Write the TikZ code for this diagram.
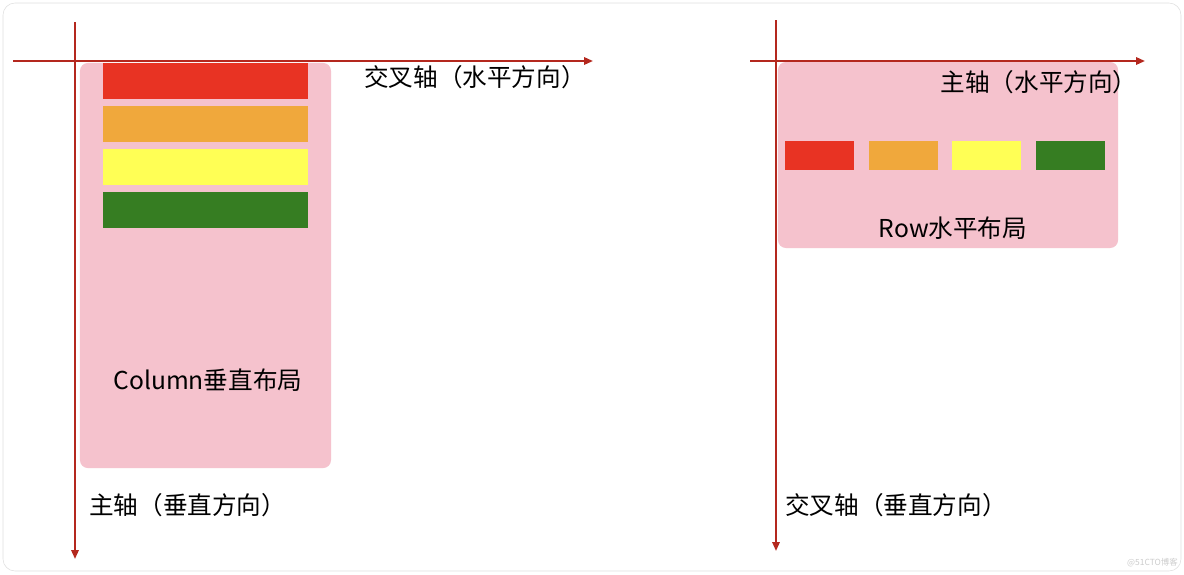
\documentclass[tikz,border=0pt]{standalone}
\usepackage{fontspec}
\usepackage{xcolor}
\usepackage{tikz}
\usetikzlibrary{arrows.meta, positioning}
\newfontfamily\cjk{Noto Sans CJK SC}
\definecolor{axisred}{RGB}{180, 40, 30}
\definecolor{panelpink}{RGB}{245, 194, 205}
\definecolor{barred}{RGB}{232, 51, 35}
\definecolor{barorange}{RGB}{240, 168, 60}
\definecolor{baryellow}{RGB}{255, 255, 85}
\definecolor{bargreen}{RGB}{54, 125, 34}

\begin{document}
\begin{tikzpicture}[
    x=0.025cm, y=-0.025cm,
    axis/.style={-{Triangle[length=0.22cm, width=0.18cm]}, line width=0.05cm, draw=axisred},
    panel/.style={rectangle, fill=panelpink, rounded corners=0.2cm, inner sep=0pt},
    colbar/.style={rectangle, inner sep=0pt, minimum width=5.125cm, minimum height=0.89cm},
    rowbar/.style={rectangle, inner sep=0pt, minimum width=1.725cm, minimum height=0.725cm},
    label/.style={font=\cjk\fontsize{17.5pt}{20pt}\selectfont, inner sep=0pt}
]
    \useasboundingbox (0,0) rectangle (1184,574);
    % frame
    \draw[gray!25, fill=white, rounded corners=0.3cm] (3,3) rectangle (1181,571);

    % Column side
    \node[panel, minimum width=6.275cm, minimum height=10.125cm] (colpanel) at (205.5,265.5) {};
    \node[colbar, fill=barred] (c1) at (205.5,80.8) {};
    \node[colbar, fill=barorange, below=0.17cm of c1] (c2) {};
    \node[colbar, fill=baryellow, below=0.17cm of c2] (c3) {};
    \node[colbar, fill=bargreen, below=0.17cm of c3] (c4) {};
    \node[label] (coltext) at (208,380) {Column垂直布局};

    \coordinate (colxs) at (13,61);
    \coordinate (colxe) at (593,61);
    \coordinate (colys) at (75,22);
    \coordinate (colye) at (75,559);
    \draw[axis] (colxs) -- (colxe);
    \draw[axis] (colys) -- (colye);
    \node[label] (colcross) at (475,77) {交叉轴（水平方向）};
    \node[label, anchor=west] (colmain) at (89,505) {主轴（垂直方向）};

    % Row side
    \node[panel, minimum width=8.5cm, minimum height=4.65cm] (rowpanel) at (948,155) {};
    \node[rowbar, fill=barred] (r1) at (819.5,155.5) {};
    \node[rowbar, fill=barorange, right=0.35cm of r1] (r2) {};
    \node[rowbar, fill=baryellow, right=0.35cm of r2] (r3) {};
    \node[rowbar, fill=bargreen, right=0.35cm of r3] (r4) {};
    \node[label] (rowtext) at (953,228) {Row水平布局};

    \coordinate (rowxs) at (750,61);
    \coordinate (rowxe) at (1145,61);
    \coordinate (rowys) at (776,20);
    \coordinate (rowye) at (776,551);
    \draw[axis] (rowxs) -- (rowxe);
    \draw[axis] (rowys) -- (rowye);
    \node[label] (rowmain) at (1039,82) {主轴（水平方向）};
    \node[label, anchor=west] (rowcross) at (785,505) {交叉轴（垂直方向）};

    \node[font=\cjk\fontsize{6pt}{7pt}\selectfont, text=gray!40, anchor=east, inner sep=0pt] (mark) at (1178,563) {@51CTO博客};
\end{tikzpicture}
\end{document}
